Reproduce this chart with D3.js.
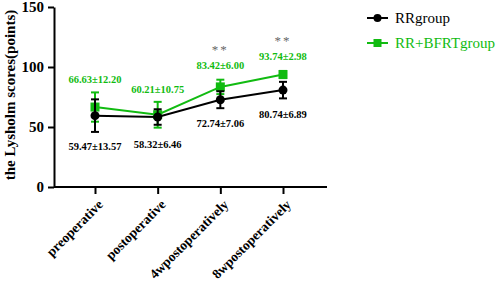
<!DOCTYPE html>
<html><head><meta charset="utf-8">
<script src="https://cdn.jsdelivr.net/npm/d3@7"></script>
<style>body{margin:0;background:#fff}svg{display:block}
svg text{font-family:"Liberation Serif","Times New Roman",Tinos,Times,serif !important;}</style>
</head><body>
<svg id="c" width="498" height="284"></svg>
<script>
const categories = ["preoperative","postoperative","4wpostoperatively","8wpostoperatively"];
const rrMean = [59.47, 58.32, 72.74, 80.74];
const rrSD = [13.57, 6.46, 7.06, 6.89];
const bfrtMean = [66.63, 60.21, 83.42, 93.74];
const bfrtSD = [12.20, 10.75, 6.00, 2.98];
const sig = ["", "", "**", "**"];
const yTicks = [0, 50, 100, 150];
const seriesNames = ["RRgroup", "RR+BFRTgroup"];

const GREEN = "#11bb11", BLACK = "#000";
const svg = d3.select("#c");

const y = d3.scaleLinear().domain([0,150]).range([187,7]);
const x = d3.scalePoint().domain(categories).range([95,283]);
const x0 = 54, xEnd = 327;

// axes
const gy = svg.append("g").attr("transform",`translate(${x0},0)`)
  .call(d3.axisLeft(y).tickValues(yTicks).tickSize(6).tickSizeOuter(0));
gy.attr("font-family",null);
gy.select(".domain").attr("stroke-width",2);
gy.selectAll(".tick line").attr("stroke-width",2);
gy.selectAll("text").attr("font-weight","bold").attr("font-size",15).attr("dx",-1);

const gx = svg.append("g").attr("transform",`translate(0,${y(0)})`)
  .call(d3.axisBottom(x).tickSize(7).tickSizeOuter(0));
gx.attr("font-family",null);
gx.select(".domain").attr("d",`M${x0},0H${xEnd}`).attr("stroke-width",2);
gx.selectAll(".tick line").attr("stroke-width",2);
gx.selectAll("text").attr("font-weight","bold").attr("font-size",13.5)
  .attr("text-anchor","end").attr("dy","0.35em")
  .attr("transform","translate(5,15) rotate(-45)").attr("y",0).attr("x",0);

svg.append("text").attr("transform",`translate(15,${y(75)-2}) rotate(-90)`)
  .attr("text-anchor","middle").attr("font-weight","bold").attr("font-size",15)
  .text("the Lysholm scores(points)");

function drawSeries(mean, sd, color, shape){
  const line = d3.line().x((d,i)=>x(categories[i])).y(d=>y(d));
  svg.append("path").datum(mean).attr("d",line).attr("fill","none").attr("stroke",color).attr("stroke-width",2);
  const g = svg.append("g");
  mean.forEach((m,i)=>{
    const cx = x(categories[i]);
    g.append("line").attr("x1",cx).attr("x2",cx).attr("y1",y(m+sd[i])).attr("y2",y(m-sd[i])).attr("stroke",color).attr("stroke-width",2);
    [m+sd[i], m-sd[i]].forEach(v=>g.append("line").attr("x1",cx-4).attr("x2",cx+4).attr("y1",y(v)).attr("y2",y(v)).attr("stroke",color).attr("stroke-width",2));
    if(shape==="circle") g.append("circle").attr("cx",cx).attr("cy",y(m)).attr("r",4.5).attr("fill",color);
    else g.append("rect").attr("x",cx-4.5).attr("y",y(m)-4.5).attr("width",9).attr("height",9).attr("fill",color);
  });
}
drawSeries(bfrtMean, bfrtSD, GREEN, "square");
drawSeries(rrMean, rrSD, BLACK, "circle");

// value labels
const greenLabelY = [79, 89, 65, 56];
const blackLabelY = [146, 144, 123, 114];
categories.forEach((c,i)=>{
  svg.append("text").attr("x",x(c)).attr("y",greenLabelY[i]).attr("dy","0.35em").attr("text-anchor","middle")
    .attr("font-weight","bold").attr("font-size",10.5).attr("fill",GREEN)
    .text(bfrtMean[i].toFixed(2)+"±"+bfrtSD[i].toFixed(2));
  svg.append("text").attr("x",x(c)).attr("y",blackLabelY[i]).attr("dy","0.35em").attr("text-anchor","middle")
    .attr("font-weight","bold").attr("font-size",10.5).attr("fill",BLACK)
    .text(rrMean[i].toFixed(2)+"±"+rrSD[i].toFixed(2));
  if(sig[i]) svg.append("text").attr("x",x(c)).attr("y",greenLabelY[i]-20).attr("dy","0.7em").attr("text-anchor","middle")
    .attr("font-size",13).attr("fill","#666")
    .attr("letter-spacing",2).text(sig[i]);
});

// legend
const legend = svg.append("g");
seriesNames.forEach((n,i)=>{
  const ly = 18 + i*25, col = i===0?BLACK:GREEN;
  legend.append("line").attr("x1",367).attr("x2",388).attr("y1",ly).attr("y2",ly).attr("stroke",col).attr("stroke-width",2);
  if(i===0) legend.append("circle").attr("cx",377.5).attr("cy",ly).attr("r",4).attr("fill",col);
  else legend.append("rect").attr("x",373.5).attr("y",ly-4).attr("width",8).attr("height",8).attr("fill",col);
  legend.append("text").attr("x",395).attr("y",ly).attr("dy","0.35em")
    .attr("font-size",15).attr("fill",col).text(n);
});
</script>
</body></html>
